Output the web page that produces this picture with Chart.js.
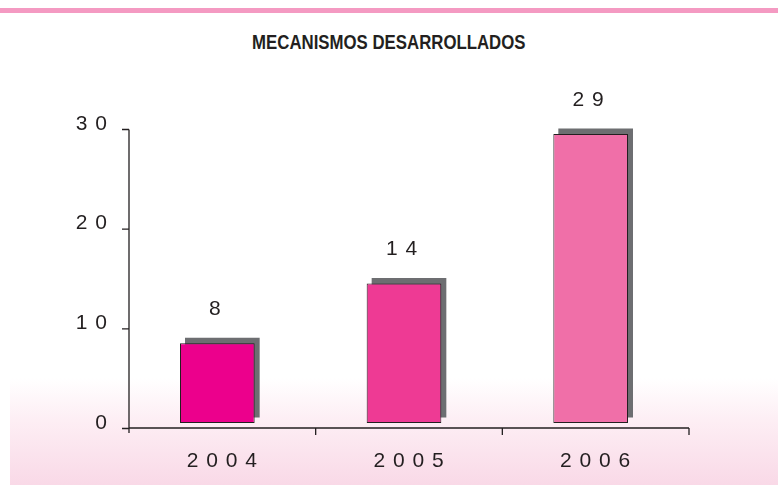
<!DOCTYPE html>
<html lang="es">
<head>
  <meta charset="UTF-8"/>
  <title>Mecanismos desarrollados</title>
  <script src="https://cdn.jsdelivr.net/npm/chart.js"></script>
  <style>
    html, body { margin: 0; padding: 0; background: #ffffff; }
    .page { position: relative; width: 778px; height: 485px; overflow: hidden; }
    .topline { position: absolute; left: 0; top: 8px; width: 778px; height: 5px; background: #f49ac2; }
    .fade { position: absolute; left: 10px; top: 378px; width: 768px; height: 107px;
            background: linear-gradient(to bottom, #ffffff 0%, #fdeef4 40%, #f9d9e7 100%); }
    .title { position: absolute; left: 0; top: 31px; width: 778px; text-align: center; }
    .title span { display: inline-block; transform: scale(0.84, 1.05); transform-origin: center;
                  font: bold 20px 'Liberation Sans', Arial, sans-serif;
                  color: #231f20; line-height: 22px; white-space: nowrap; }
    #chart { position: absolute; left: 0; top: 0; }
  </style>
</head>
<body>
<div class="page">
  <div class="topline"></div>
  <div class="fade"></div>
  <div class="title"><span>MECANISMOS DESARROLLADOS</span></div>
  <canvas id="chart" width="778" height="485"></canvas>
</div>

<script>
// data
const years = ['2004', '2005', '2006'];
const mecanismos = [8, 14, 29];
const yMin = 0;
const yMax = 30;
const yStep = 10;

const barColors = ['#ec008c', '#ee3a94', '#f06fa8'];
const shadowColor = '#6d6e71';
const inkColor = '#231f20';
const labelFont = '"Liberation Sans", Arial, sans-serif';
const SHIFT = 5;

const spaced = s => String(s).split('').join(' ');

const excelLook = {
  id: 'excelLook',
  beforeDraw(chart) {
    chart.ctx.letterSpacing = '1px';
  },
  beforeDatasetDraw(chart, args) {
    const ctx = chart.ctx;
    ctx.save();
    // shadow sits up, front bar sits left, like the old spreadsheet chart
    if (args.index === 0) ctx.translate(0, -SHIFT - 0.5);
    else ctx.translate(-SHIFT, 0);
  },
  afterDatasetDraw(chart) {
    chart.ctx.restore();
  },
  afterDatasetsDraw(chart) {
    const ctx = chart.ctx;
    const x = chart.scales.x;
    const y = chart.scales.y;
    const axisY = y.getPixelForValue(0) + SHIFT;
    const left = chart.chartArea.left;
    const right = chart.chartArea.right;

    ctx.save();
    ctx.strokeStyle = inkColor;
    ctx.lineWidth = 1.3;
    ctx.beginPath();
    // y axis + its tick marks
    ctx.moveTo(left, y.getPixelForValue(yMax) + SHIFT + 0.5);
    ctx.lineTo(left, axisY + 5);
    for (let v = yMin; v <= yMax; v += yStep) {
      const py = y.getPixelForValue(v) + SHIFT + 0.5;
      ctx.moveTo(left - 7, py);
      ctx.lineTo(left, py);
    }
    // x axis + boundary ticks
    ctx.moveTo(left, axisY);
    ctx.lineTo(right, axisY);
    const slot = (right - left) / years.length;
    for (let i = 1; i <= years.length; i++) {
      const px = x.getPixelForValue(i - 1) + slot / 2;
      ctx.moveTo(px, axisY);
      ctx.lineTo(px, axisY + 7);
    }
    ctx.stroke();

    // value labels over the bars
    ctx.fillStyle = inkColor;
    ctx.font = '21px ' + labelFont;
    ctx.textAlign = 'center';
    ctx.textBaseline = 'middle';
    chart.getDatasetMeta(1).data.forEach((bar, i) => {
      ctx.fillText(spaced(mecanismos[i]), bar.x - SHIFT - 2, bar.y - 34);
    });
    ctx.restore();
  },
  afterDraw(chart) {
    chart.ctx.letterSpacing = '0px';
  }
};

new Chart(document.getElementById('chart'), {
  type: 'bar',
  data: {
    labels: years,
    datasets: [
      {
        label: 'sombra',
        data: mecanismos,
        backgroundColor: shadowColor,
        borderWidth: 0,
        categoryPercentage: 0.4,
        barPercentage: 1,
        grouped: false,
        order: 2,
        clip: false
      },
      {
        label: 'Mecanismos desarrollados',
        data: mecanismos,
        backgroundColor: barColors,
        borderColor: inkColor,
        borderWidth: 1,
        borderSkipped: false,
        categoryPercentage: 0.4,
        barPercentage: 1,
        grouped: false,
        order: 1,
        clip: false
      }
    ]
  },
  options: {
    responsive: false,
    animation: false,
    layout: { padding: { top: 124, right: 89, bottom: 0, left: 0 } },
    plugins: {
      legend: { display: false },
      tooltip: { enabled: false },
      title: { display: false }
    },
    scales: {
      x: {
        grid: { display: false },
        border: { display: false },
        ticks: {
          padding: 18,
          color: inkColor,
          font: { family: labelFont, size: 21 },
          callback: function (v, i) { return spaced(years[i]); }
        },
        afterFit(scale) { scale.height = 62; }
      },
      y: {
        min: yMin,
        max: yMax,
        grid: { display: false },
        border: { display: false },
        ticks: {
          stepSize: yStep,
          padding: 13,
          color: inkColor,
          font: { family: labelFont, size: 21 },
          callback: v => spaced(v)
        },
        afterFit(scale) { scale.width = 129; }
      }
    }
  },
  plugins: [excelLook]
});
</script>
</body>
</html>
